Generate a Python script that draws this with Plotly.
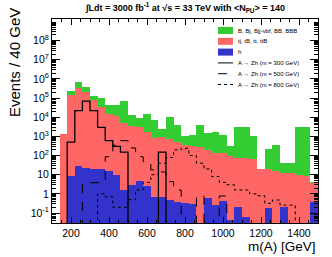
import plotly.graph_objects as go

# ---------------- data ----------------
bin_edges = [100 + 40 * i for i in range(36)]  # GeV, 40 GeV bins from 100 to 1500

# stacked totals (B + t + h)
stack_total = [None, 1350, 2.4e5, 6.8e5, 4.0e5, 1.3e5, 9.8e4, 4.4e4, 4.4e4, 7.1e4,
               1.3e4, 8.9e3, 1.45e4, 7.2e3, 2.5e3, 1.0e4, 4.0e3, 1.1e3, 1.2e3, 4.0e3,
               1.5e3, 1.7e3, 1.2e3, 300, 3.2e3, 3.2e3, 1.1e3, 20, 210, 350,
               43, 43, 3.2e3, 3.2e3, 4.4]
# stacked t + h
stack_top = [None, 1350, 1.5e5, 3.3e5, 2.2e5, 8.1e4, 3.3e4, 1.45e4, 1.1e4, 4.9e3,
             3.5e3, 3.0e3, 1.8e3, 800, 900, 700, 500, 355, 316, 295,
             200, 130, 130, 95, 78, 78, 63, 20, 19, 16,
             13, 13, 9.8, 8.5, 3.8]
# h alone
higgs = [None, None, 8.9, 29, 22, 19.5, 19.5, 16, 9.8, 1.6,
         3.0, 4.7, 2.6, 0.66, 0.71, 0.48, 0.39, 0.35, 0.30, None,
         0.59, 0.26, 0.43, 0.044, 0.20, 0.065, None, None, 0.18, None,
         0.21, None, None, None, 0.36]

sig_300 = [0, 0, 500, 2.2e4, 7e4, 2.2e4, 3e3, 600, 300, 150,
           0, 0, 0, 0, 150, 0, 0, 0, 0, 0,
           0, 0, 0, 0, 0, 0, 0, 0, 0, 0,
           0, 0, 0, 0, 0]
sig_500 = [0, 0, 0, 0, 3.8, 3.8, 3.8, 87, 350, 600,
           250, 87, 48, 18, 14, 4.4, 1.6, 0, 0, 0.78,
           0, 0, 0.78, 0, 0, 0, 0, 0, 0, 0,
           0, 0, 0, 0, 0]
sig_800 = [0, 0, 0, 0, 0, 0, 1.0, 0.7, 0.2, 0.2,
           0.5, 1.6, 4, 10, 40, 80, 200, 240, 100, 40,
           20, 8, 4, 3, 1.6, 1.6, 1.0, 0.8, 0.32, 0.48,
           0.26, 0.26, 0, 0, 0]

legend_labels = ["B, Bj, Bjj-vbf, BB, BBB", "tj, tB, tt, ttB", "h",
                 "A \u2192 Zh (m = 300 GeV)", "A \u2192 Zh (m = 500 GeV)",
                 "A \u2192 Zh (m = 800 GeV)"]

x_tick_vals = [200, 400, 600, 800, 1000, 1200, 1400]
y_tick_vals = [0.1, 1, 10, 1e2, 1e3, 1e4, 1e5, 1e6, 1e7, 1e8]
y_tick_text = ["10<sup>-1</sup>", "1", "10", "10<sup>2</sup>", "10<sup>3</sup>",
               "10<sup>4</sup>", "10<sup>5</sup>", "10<sup>6</sup>",
               "10<sup>7</sup>", "10<sup>8</sup>"]

# ---------------- style ----------------
GREEN = "#33cc33"
RED = "#ff6666"
BLUE = "#3333cc"
W, H = 332, 257
ML, MR, MT, MB = 52, 14, 19, 34
FONT = "Liberation Sans, Arial, sans-serif"

centers = [(bin_edges[i] + bin_edges[i + 1]) / 2 for i in range(len(bin_edges) - 1)]
widths = [bin_edges[i + 1] - bin_edges[i] for i in range(len(bin_edges) - 1)]

fig = go.Figure()
for vals, col in [(stack_total, GREEN), (stack_top, RED), (higgs, BLUE)]:
    fig.add_trace(go.Bar(x=centers, y=vals, width=widths, marker=dict(color=col, line=dict(width=0)),
                         showlegend=False))

FLOOR = 1e-4  # below axis range: empty bins drop out of view
for vals, dash, lw in [(sig_300, "solid", 1.3), (sig_500, "dash", 1.0), (sig_800, "dot", 1.0)]:
    yy = [v if v > 0 else FLOOR for v in vals]
    fig.add_trace(go.Scatter(x=bin_edges, y=yy + [yy[-1]], mode="lines", line_shape="hv",
                             line=dict(color="black", width=lw, dash=dash), showlegend=False))

# minor ticks
minor_x = [v for v in range(100, 1501, 50) if v not in x_tick_vals]
minor_y = []
for d in range(-2, 10):
    for m in range(2, 10):
        minor_y.append(m * 10 ** d)

fig.update_layout(
    width=W, height=H,
    margin=dict(l=ML, r=MR, t=MT, b=MB),
    paper_bgcolor="white", plot_bgcolor="white",
    barmode="overlay", bargap=0,
    font=dict(family=FONT, color="black", size=10),
    showlegend=False,
)
fig.update_xaxes(range=[100, 1500], tickvals=x_tick_vals, ticks="inside", ticklen=6,
                 tickcolor="black", showline=True, linecolor="black", linewidth=1,
                 mirror="allticks", showgrid=False, zeroline=False,
                 tickfont=dict(size=10.5),
                 minor=dict(tickvals=minor_x, ticks="inside", ticklen=3, tickcolor="black", showgrid=False))
fig.update_yaxes(type="log", range=[-1.52, 9.13], tickvals=y_tick_vals, ticktext=y_tick_text,
                 ticks="inside", ticklen=8, tickcolor="black", showline=True, linecolor="black",
                 linewidth=1, mirror="allticks", showgrid=False, zeroline=False,
                 tickfont=dict(size=10.5),
                 minor=dict(tickvals=minor_y, ticks="inside", ticklen=4, tickcolor="black", showgrid=False))

pw = W - ML - MR
ph = H - MT - MB


def px(xp):
    return (xp - ML) / pw


def py(yp):
    return (H - MB - yp) / ph


# title
fig.add_annotation(x=px(185), y=py(8), xref="paper", yref="paper", showarrow=False,
                   text="<b>\u222BLdt = 3000 fb<sup>-1</sup> at \u221As = 33 TeV with &lt;N<sub>PU</sub>&gt; = 140</b>",
                   font=dict(size=9), xanchor="center", yanchor="middle")
# axis titles
fig.add_annotation(x=1, y=py(246.5), xref="paper", yref="paper", showarrow=False,
                   text="m(A) [GeV]", font=dict(size=13.5), xanchor="right", yanchor="middle")
fig.add_annotation(x=px(14), y=py(63), xref="paper", yref="paper", showarrow=False,
                   text="Events / 40 GeV", font=dict(size=15), textangle=-90,
                   xanchor="center", yanchor="middle")

# legend (drawn manually to match compact spacing)
row_y = [30.5, 41.3, 52.1, 62.9, 73.7, 84.5]
sw_x0, sw_x1, txt_x = 218, 233, 236
fills = [GREEN, RED, BLUE]
for i, lab in enumerate(legend_labels):
    yc = row_y[i]
    if i < 3:
        fig.add_shape(type="rect", xref="paper", yref="paper", x0=px(sw_x0), x1=px(sw_x1),
                      y0=py(yc + 3.5), y1=py(yc - 3.5), fillcolor=fills[i], line=dict(width=0))
    else:
        dash = ["solid", "dash", "dot"][i - 3]
        fig.add_shape(type="line", xref="paper", yref="paper", x0=px(sw_x0), x1=px(sw_x1),
                      y0=py(yc), y1=py(yc), line=dict(color="black", width=1, dash=dash))
    fig.add_annotation(x=px(txt_x), y=py(yc), xref="paper", yref="paper", showarrow=False,
                       text=lab, font=dict(size=6), xanchor="left", yanchor="middle")

fig.write_html("out.html", config={"displayModeBar": False},
               post_script="document.body.style.margin='0';document.body.style.padding='0';")
